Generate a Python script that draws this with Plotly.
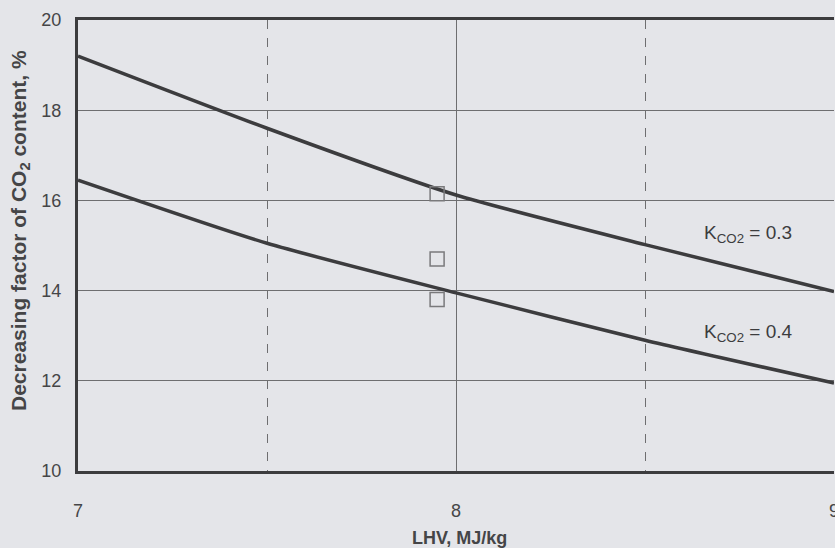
import plotly.graph_objects as go

# Data
lhv = [7.0, 7.5, 8.0, 8.5, 9.0]
k03_values = [19.2, 17.6, 16.12, 15.02, 13.98]
k04_values = [16.45, 15.05, 13.95, 12.9, 11.95]

exp_x = [7.95, 7.95, 7.95]
exp_y = [16.15, 14.7, 13.8]

label_text = ["K<sub>CO2</sub> = 0.3", "K<sub>CO2</sub> = 0.4"]
label_x = [8.65, 8.65]
label_y = [15.25, 13.05]

x_ticks = [7, 8, 9]
y_ticks = [10, 12, 14, 16, 18, 20]

x_title = "<b>LHV, MJ/kg</b>"
y_title = "<b>Decreasing factor of CO<sub>2</sub> content, %</b>"

bg = "#e4e5e9"
ink = "#3c3c3e"
txt = "#454547"
font_family = "Liberation Sans, Arial, sans-serif"

L, R, T, B = 78, 1, 20, 77
W, H = 835, 548
plot_w = W - L - R
plot_h = H - T - B

fig = go.Figure()
fig.add_trace(go.Scatter(x=lhv, y=k03_values, mode="lines",
                         line=dict(color=ink, width=3.5, shape="spline", smoothing=0.6),
                         showlegend=False, hoverinfo="skip"))
fig.add_trace(go.Scatter(x=lhv, y=k04_values, mode="lines",
                         line=dict(color=ink, width=3.5, shape="spline", smoothing=0.6),
                         showlegend=False, hoverinfo="skip"))
fig.add_trace(go.Scatter(x=exp_x, y=exp_y, mode="markers",
                         marker=dict(symbol="square-open", size=14, color="#7a7a7c",
                                     line=dict(width=1.5, color="#7a7a7c")),
                         showlegend=False, hoverinfo="skip"))

for t, x, y in zip(label_text, label_x, label_y):
    fig.add_annotation(x=x, y=y, text=t, showarrow=False, xanchor="left",
                       font=dict(size=19, color=ink, family=font_family))

# axis titles as paper annotations
fig.add_annotation(x=(459 - L) / plot_w, y=(T + plot_h - 538) / plot_h, xref="paper", yref="paper",
                   text=x_title, showarrow=False, xanchor="center", yanchor="middle",
                   font=dict(size=18, color=txt, family=font_family))
fig.add_annotation(x=(20 - L) / plot_w, y=(T + plot_h - 231) / plot_h, xref="paper", yref="paper",
                   text=y_title, showarrow=False, xanchor="center", yanchor="middle", textangle=-90,
                   font=dict(size=21, color=txt, family=font_family))

fig.update_layout(
    width=W, height=H,
    margin=dict(l=L, r=R, t=T, b=B, autoexpand=False),
    paper_bgcolor=bg, plot_bgcolor=bg,
    font=dict(family=font_family, color=txt, size=17),
)
fig.update_xaxes(
    range=[7, 9], tickvals=x_ticks, ticktext=[str(v) for v in x_ticks],
    showgrid=True, gridcolor="#6e6e70", gridwidth=1,
    minor=dict(dtick=0.5, showgrid=True, gridcolor="#6e6e70", griddash="dash", gridwidth=1, tick0=7),
    showline=True, linecolor=ink, linewidth=3, mirror=True,
    ticks="", ticklabelstandoff=21, zeroline=False, automargin=False,
    ticklabeloverflow="allow",
    tickfont=dict(size=18),
)
fig.update_yaxes(
    range=[10, 20], tickvals=y_ticks, ticktext=[str(v) for v in y_ticks],
    showgrid=True, gridcolor="#6e6e70", gridwidth=1,
    showline=True, linecolor=ink, linewidth=3, mirror=False,
    ticks="", ticklabelstandoff=10, zeroline=False, automargin=False,
    tickfont=dict(size=18),
)

fig.write_html("out.html", config={"displayModeBar": False},
               post_script="document.body.style.margin='0px';document.body.style.background='%s';" % bg)
